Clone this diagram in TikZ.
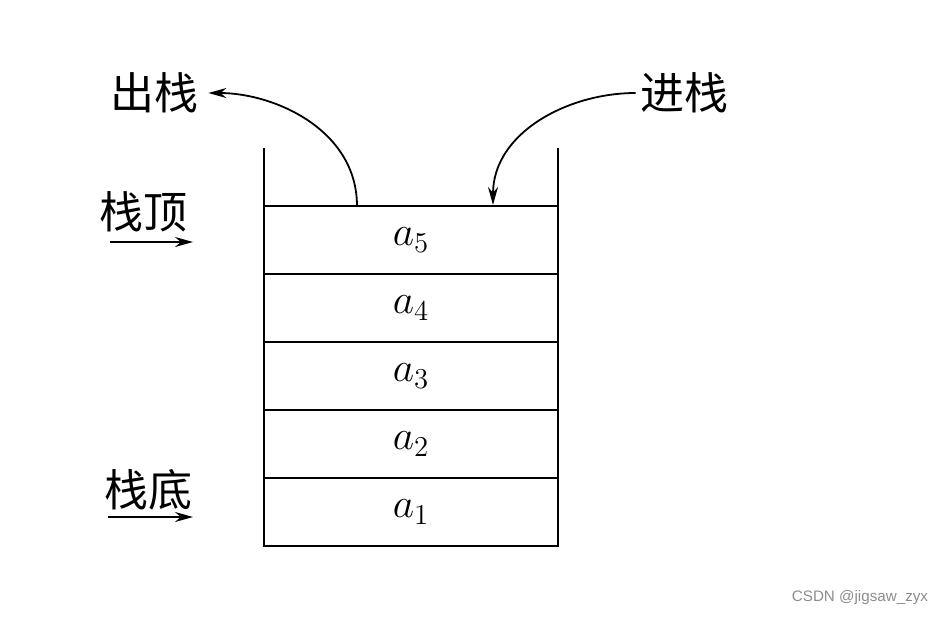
\documentclass[tikz,border=0pt]{standalone}
\usepackage{fontspec}
\usepackage{tikz}
\usetikzlibrary{arrows.meta}
\usetikzlibrary{positioning}
\newfontfamily\cjk{Noto Sans CJK SC}
\newfontfamily\marksans{Liberation Sans}
\tikzstyle{cell}=[draw=black, line width=1pt, outer sep=0pt, inner sep=0pt,
    minimum width=147pt, minimum height=34pt, font=\fontsize{21}{25}\selectfont]
\tikzstyle{label_cn}=[inner sep=0pt, font=\cjk\fontsize{22}{26}\selectfont]
\tikzstyle{stack_arrow}=[line width=0.9pt, -{Stealth[length=9pt,width=5pt]}]

\begin{document}
\begin{tikzpicture}[x=0.5pt, y=-0.5pt]
          \useasboundingbox (0,0) rectangle (942,616);
          % stack cells
          \node[cell] (a5) at (411,240){$a_5$};
          \node[cell, below=0pt of a5] (a4){$a_4$};
          \node[cell, below=0pt of a4] (a3){$a_3$};
          \node[cell, below=0pt of a3] (a2){$a_2$};
          \node[cell, below=0pt of a2] (a1){$a_1$};
          \coordinate (lwall) at (264,148);
          \coordinate (rwall) at (558,148);
          \draw[line width=1pt](lwall) -- (a1.south west);
          \draw[line width=1pt](rwall) -- (a1.south east);
          % labels
          \node[label_cn] (pop) at (154,93){出栈};
          \node[label_cn] (push) at (684,93){进栈};
          \node[label_cn] (top) at (143,212){栈顶};
          \node[label_cn] (bottom) at (148,490){栈底};
          \coordinate (popbase) at (357,206);
          \coordinate (pushtip) at (493,205);
          \draw[stack_arrow, shorten >=5pt](popbase) to[out=90, in=0] (pop.east);
          \draw[stack_arrow, shorten <=2pt](push.west) to[out=180, in=90] (pushtip);
          \coordinate (topfrom) at (110,242);
          \coordinate (topto) at (193,242);
          \coordinate (botfrom) at (108,517);
          \coordinate (botto) at (193,517);
          \draw[stack_arrow](topfrom) -- (topto);
          \draw[stack_arrow](botfrom) -- (botto);
          \node[text=black!45, font=\marksans\fontsize{7.6}{9}\selectfont] (mark) at (860,598){CSDN @jigsaw\_zyx};
        \end{tikzpicture}
\end{document}
